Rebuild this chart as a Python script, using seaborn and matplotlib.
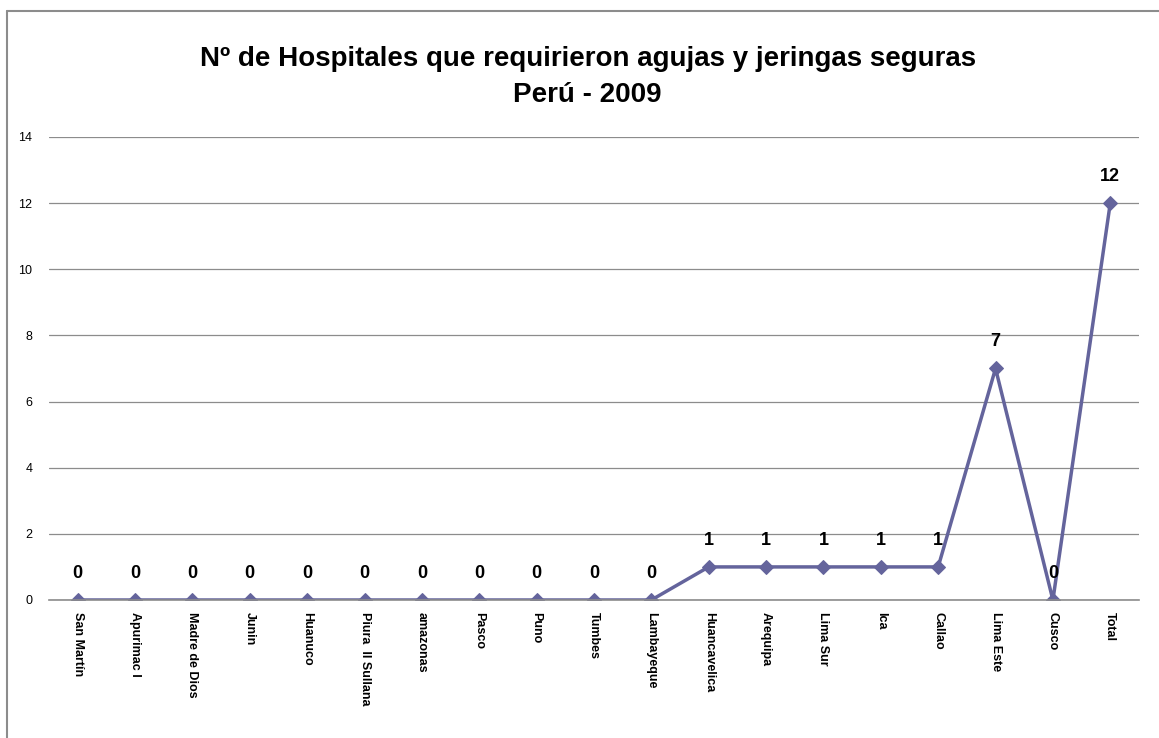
import matplotlib
matplotlib.use("Agg")
import matplotlib.pyplot as plt
import seaborn as sns
import pandas as pd
from matplotlib.lines import Line2D

# ==============================
# DATOS
# ==============================
regiones = ["San Martín", "Apurimac I", "Madre de Dios", "Junin", "Huanuco",
            "Piura  II Sullana", "amazonas", "Pasco", "Puno", "Tumbes",
            "Lambayeque", "Huancavelica", "Arequipa", "Lima Sur", "Ica",
            "Callao", "Lima Este", "Cusco", "Total"]
hospitales = [0, 0, 0, 0, 0, 0, 0, 0, 0, 0, 0, 1, 1, 1, 1, 1, 7, 0, 12]
y_ticks = [0, 2, 4, 6, 8, 10, 12, 14]

titulo = "Nº de Hospitales que requirieron agujas y jeringas seguras\nPerú - 2009"

# ==============================
# CONFIGURACIÓN
# ==============================
sns.set_theme(style="white")
plt.rcParams["font.family"] = ["Liberation Sans Narrow", "Liberation Sans", "DejaVu Sans"]
plt.rcParams["text.color"] = "black"
plt.rcParams["xtick.color"] = "black"
plt.rcParams["ytick.color"] = "black"

color_linea = "#64649C"
df = pd.DataFrame({"Region": regiones, "Hospitales": hospitales})

fig = plt.figure(figsize=(11.59, 7.38), dpi=100)
ax = fig.add_axes([0.0423, 0.187, 0.9404, 0.6274])

sns.lineplot(data=df, x="Region", y="Hospitales", sort=False, ax=ax,
             color=color_linea, linewidth=2.5, marker="D", markersize=7.5,
             markeredgecolor=color_linea, markerfacecolor=color_linea)

# etiquetas de datos
for i, v in enumerate(hospitales):
    ax.text(i, v + 0.55, str(v), ha="center", va="bottom",
            fontsize=13, fontweight="bold", color="black")

ax.set_xlim(-0.5, len(regiones) - 0.5)
ax.set_ylim(0, 14)
ax.set_yticks(y_ticks)
ax.set_yticklabels([str(t) for t in y_ticks], fontsize=9)
ax.set_xticks(range(len(regiones)))
ax.set_xticklabels(regiones, rotation=270, ha="center", va="top",
                   fontsize=9, fontweight="bold")
ax.tick_params(axis="both", length=0, pad=9)
ax.tick_params(axis="y", pad=12)
ax.grid(axis="y", color="#8C8C8C", linewidth=0.9)
ax.set_axisbelow(True)
ax.set_xlabel("")
ax.set_ylabel("")
for s in ["top", "right", "left"]:
    ax.spines[s].set_visible(False)
ax.spines["bottom"].set_color("#8C8C8C")
ax.spines["bottom"].set_linewidth(1.2)

fig.text(0.507, 0.895, titulo, ha="center", va="center", color="black",
         fontsize=20, fontweight="bold", linespacing=1.5)

# borde del área del gráfico
x0, y0 = 7 / 1159, 1 - 11 / 738
fig.add_artist(Line2D([x0, 1.0], [y0, y0], transform=fig.transFigure,
                      color="#8C8C8C", linewidth=1.5))
fig.add_artist(Line2D([x0, x0], [0.0, y0], transform=fig.transFigure,
                      color="#8C8C8C", linewidth=1.5))

plt.savefig("out.png", dpi=100)
